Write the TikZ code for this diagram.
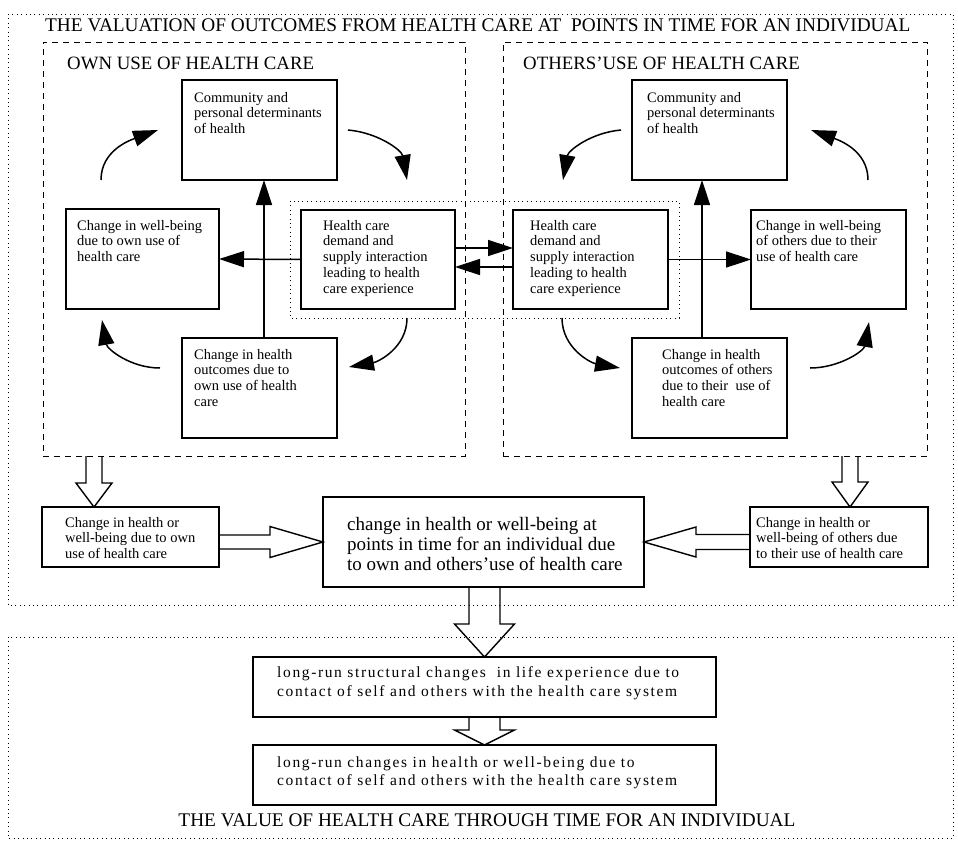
\documentclass[tikz,border=0pt]{standalone}
\usepackage{fontspec}
\setmainfont{Liberation Serif}
\newfontfamily\trackfont[LetterSpace=10.5]{Liberation Serif}
\usetikzlibrary{calc,arrows.meta}

\newcommand{\boxfont}{\fontsize{14.5}{15.7}\selectfont}
\newcommand{\sumfont}{\fontsize{19}{20}\selectfont}
\newcommand{\longfont}{\trackfont\fontsize{15.5}{18.5}\selectfont}
\newcommand{\headfont}{\fontsize{19.3}{20}\selectfont}
\newcommand{\panelfont}{\fontsize{18.8}{20}\selectfont}

% hollow block arrows, open at the tail
% #1 tail, #2 tip, #3 half shaft, #4 half head, #5 head length
\newcommand{\vblock}[5]{%
  \draw[blockarrow] let \p1=#1, \p2=#2 in
    (\x2-#3,\y1) -- (\x2-#3,\y2+#5) -- (\x2-#4,\y2+#5) -- (\x2,\y2)
    -- (\x2+#4,\y2+#5) -- (\x2+#3,\y2+#5) -- (\x2+#3,\y1);}
% #6 sign towards the tail (- points right, + points left)
\newcommand{\hblock}[6]{%
  \draw[blockarrow] let \p1=#1, \p2=#2 in
    (\x1,\y2+#3) -- (\x2#6#5,\y2+#3) -- (\x2#6#5,\y2+#4) -- (\x2,\y2)
    -- (\x2#6#5,\y2-#4) -- (\x2#6#5,\y2-#3) -- (\x1,\y2-#3);}

\begin{document}
\begin{tikzpicture}[x=1pt,y=-1pt,
    hcbox/.style={draw,line width=1.5pt,inner sep=0pt,outer sep=0pt},
    hctext/.style={anchor=north west,inner sep=0pt,align=left,font=\boxfont},
    dashbox/.style={draw,line width=0.8pt,dash pattern=on 6pt off 5pt,inner sep=0pt,outer sep=0pt},
    dotframe/.style={line width=0.8pt,dash pattern=on 0.8pt off 3.6pt},
    flow/.style={line width=1.5pt,-{Triangle[length=25pt,width=16pt]}},
    blockarrow/.style={line width=1.4pt,line join=miter}]
  \useasboundingbox (0,0) rectangle (958,844);

  % frames
  \draw[dotframe] (8,14) rectangle (953,605);
  \draw[dotframe] (8,637) rectangle (953,838);
  \node[anchor=west,inner sep=0pt,font=\headfont] (toptitle) at (45,25)
    {THE VALUATION OF OUTCOMES FROM HEALTH CARE AT~ POINTS IN TIME FOR AN INDIVIDUAL};
  \node[inner sep=0pt,font=\headfont] (bottitle) at (487,820)
    {THE VALUE OF HEALTH CARE THROUGH TIME FOR AN INDIVIDUAL};

  \node[dashbox,minimum width=422pt,minimum height=414pt] (ldash) at (254,249) {};
  \node[dashbox,minimum width=424pt,minimum height=414pt] (rdash) at (715,249) {};
  \node[anchor=west,inner sep=0pt,font=\panelfont] (ltitle) at (67,63) {OWN USE OF HEALTH CARE};
  \node[anchor=west,inner sep=0pt,font=\panelfont] (rtitle) at (523,63) {OTHERS'USE OF HEALTH CARE};
  \draw[dotframe] (290,201) rectangle (679,318);

  % own use
  \node[hcbox,minimum width=155pt,minimum height=100pt] (lcomm) at (259.5,130) {};
  \node[hcbox,minimum width=153pt,minimum height=100pt] (lwell) at (142.5,259) {};
  \node[hcbox,minimum width=154pt,minimum height=99pt] (ldem) at (378,259.5) {};
  \node[hcbox,minimum width=155pt,minimum height=100pt] (lout) at (259.5,388) {};
  \node[hctext] (lcommtxt) at (194,92) {Community and\\personal determinants\\of health};
  \node[hctext] (lwelltxt) at (77,220) {Change in well-being\\due to own use of\\health care};
  \node[hctext] (ldemtxt) at (323,220) {Health care\\demand and\\supply interaction\\leading to health\\care experience};
  \node[hctext] (louttxt) at (194,349) {Change in health\\outcomes due to\\own use of health\\care};

  % others' use
  \node[hcbox,minimum width=155pt,minimum height=100pt] (rcomm) at (709.5,130) {};
  \node[hcbox,minimum width=155pt,minimum height=99pt] (rdem) at (590.5,259.5) {};
  \node[hcbox,minimum width=155pt,minimum height=99pt] (rwell) at (828.5,259.5) {};
  \node[hcbox,minimum width=155pt,minimum height=100pt] (rout) at (709.5,388) {};
  \node[hctext] (rcommtxt) at (647,92) {Community and\\personal determinants\\of health};
  \node[hctext] (rdemtxt) at (530,220) {Health care\\demand and\\supply interaction\\leading to health\\care experience};
  \node[hctext] (rwelltxt) at (756,220) {Change in well-being\\of others due to their\\use of health care};
  \node[hctext] (routtxt) at (662,349) {Change in health\\outcomes of others\\due to their~ use of\\health care};

  % straight connectors
  \draw[flow] ([xshift=4.5pt]lout.north) -- ([xshift=4.5pt]lcomm.south);
  \draw[flow] ([xshift=-7.5pt]rout.north) -- ([xshift=-7.5pt]rcomm.south);
  \draw[flow] (ldem.west) -- (lwell.east);
  \draw[flow] (rdem.east) -- (rwell.west);
  \draw[flow] ([yshift=11.5pt]ldem.east) -- ([yshift=11.5pt]rdem.west);
  \draw[flow] ([yshift=-7.5pt]rdem.west) -- ([yshift=-7.5pt]ldem.east);

  % cycles
  \coordinate (l1s) at (101,180); \coordinate (l1e) at (158,130);
  \coordinate (l2s) at (348,130); \coordinate (l2e) at (407,180);
  \coordinate (l3s) at (407,318); \coordinate (l3e) at (349,367);
  \coordinate (l4s) at (160,368); \coordinate (l4e) at (102,320);
  \coordinate (r1s) at (868,180); \coordinate (r1e) at (811,130);
  \coordinate (r2s) at (621,130); \coordinate (r2e) at (563,180);
  \coordinate (r3s) at (562,318); \coordinate (r3e) at (620,368);
  \coordinate (r4s) at (810,368); \coordinate (r4e) at (869,322);
  \draw[flow] (l1s) to[out=90,in=200] (l1e);
  \draw[flow] (l2s) to[out=-5,in=100] (l2e);
  \draw[flow] (l3s) to[out=-90,in=10] (l3e);
  \draw[flow] (l4s) to[out=180,in=-80] (l4e);
  \draw[flow] (r1s) to[out=90,in=-20] (r1e);
  \draw[flow] (r2s) to[out=185,in=80] (r2e);
  \draw[flow] (r3s) to[out=-90,in=170] (r3e);
  \draw[flow] (r4s) to[out=0,in=-100] (r4e);

  % summing up
  \node[hcbox,minimum width=177pt,minimum height=60pt] (lsum) at (130.5,537) {};
  \node[hcbox,minimum width=178pt,minimum height=60pt] (rsum) at (839,537) {};
  \node[hcbox,minimum width=321pt,minimum height=90pt] (total) at (483.5,542) {};
  \node[hctext] (lsumtxt) at (65,517) {Change in health or\\well-being due to own\\ use of health care};
  \node[hctext] (rsumtxt) at (756,517) {Change in health or\\well-being of others due\\to their use of health care};
  \node[hctext,font=\sumfont] (totaltxt) at (347,517) {change in health or well-being at\\points in time for an individual due\\to own and others'use of health care};

  \node[hcbox,minimum width=463pt,minimum height=60pt] (lrstruct) at (484.5,687) {};
  \node[hcbox,minimum width=463pt,minimum height=60pt] (lrhealth) at (484.5,775) {};
  \node[hctext,font=\longfont] (lrstructtxt) at (277,666.5) {long-run structural changes~ in life experience due to\\contact of self and others with the health care system};
  \node[hctext,font=\longfont] (lrhealthtxt) at (277,756.5) {long-run changes in health or well-being due to\\contact of self and others with the health care system};

  % hollow arrows
  \vblock{(ldash.south)}{($(lsum.north)+(-36.5,0)$)}{8pt}{18pt}{24pt}
  \vblock{(rdash.south)}{($(rsum.north)+(11,0)$)}{8pt}{18pt}{25pt}
  \hblock{(lsum.east)}{(total.west)}{7pt}{15.5pt}{53pt}{-}
  \hblock{(rsum.west)}{(total.east)}{7.5pt}{15pt}{52pt}{+}
  \vblock{(total.south)}{(lrstruct.north)}{15.5pt}{30pt}{33pt}
  \vblock{(lrstruct.south)}{(lrhealth.north)}{15.5pt}{30pt}{15pt}
\end{tikzpicture}
\end{document}
